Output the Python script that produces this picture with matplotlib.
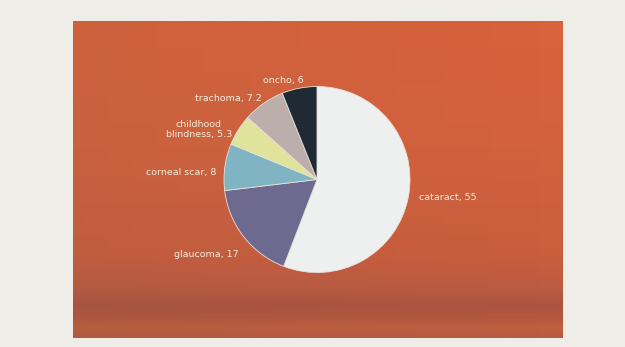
import numpy as np
import matplotlib
matplotlib.use("Agg")
import matplotlib.pyplot as plt
from matplotlib.colors import LinearSegmentedColormap

# Data
categories = ["cataract", "glaucoma", "corneal scar", "childhood\nblindness", "trachoma", "oncho"]
values = [55, 17, 8, 5.3, 7.2, 6]
value_labels = ["55", "17", "8", "5.3", "7.2", "6"]
colors = ["#eef0ef", "#6e6a8f", "#80b4c2", "#dfe39c", "#bbaeab", "#1f2a35"]

W, H = 625, 347
fig = plt.figure(figsize=(W / 100, H / 100), dpi=100, facecolor="#eeede8")

# orange chart panel with photo-like vertical gradient
left, top, right, bottom = 73, 21, 563, 338
bg = fig.add_axes([left / W, 1 - bottom / H, (right - left) / W, (bottom - top) / H])
stops = [(0.0, "#d8633b"), (0.40, "#d3623d"), (0.75, "#c95e3e"),
         (0.84, "#bc5c42"), (0.90, "#ad5440"), (0.94, "#b4573f"),
         (0.97, "#c0603f"), (1.0, "#b85b40")]
cmap = LinearSegmentedColormap.from_list("panel", stops)
grad = np.linspace(0, 1, 300)[:, None] * np.ones((1, 200))
bg.imshow(grad, cmap=cmap, aspect="auto", extent=[0, 1, 1, 0], vmin=0, vmax=1)
shade = np.ones((300, 200, 4))
shade[..., :3] = 0.35
shade[..., 3] = np.linspace(0.08, 0.0, 200)[None, :] * np.ones((300, 1))
bg.imshow(shade, aspect="auto", extent=[0, 1, 1, 0])
bg.set_xlim(0, 1)
bg.set_ylim(1, 0)
bg.axis("off")

# pie axes in pixel coordinates
ax = fig.add_axes([0, 0, 1, 1])
ax.patch.set_alpha(0)

labels = [f"{c}, {v}" for c, v in zip(categories, value_labels)]

wedges, texts = ax.pie(values, colors=colors, startangle=90, counterclock=False,
                       center=(317, H - 179.5), radius=93, labels=labels,
                       labeldistance=1.17, frame=True,
                       wedgeprops=dict(edgecolor="#e9e2dc", linewidth=0.6),
                       textprops=dict(color="#f4ecdc", fontsize=6.8,
                                      family="DejaVu Sans Condensed"))
for w, t in zip(wedges, texts):
    mid = np.deg2rad((w.theta1 + w.theta2) / 2)
    x, y = t.get_position()
    if np.cos(mid) > 0:
        t.set_ha("left")
        t.set_position((x - 5, y + 2))
    else:
        t.set_ha("right")
        t.set_position((x + 7, y - 8))
    t.set_va("center")
    t.set_linespacing(1.1)
    t.set_multialignment("center")
ax.set_xlim(0, W)
ax.set_ylim(0, H)
ax.set_aspect("equal")
ax.axis("off")

fig.savefig("out.png", dpi=100, facecolor=fig.get_facecolor())
